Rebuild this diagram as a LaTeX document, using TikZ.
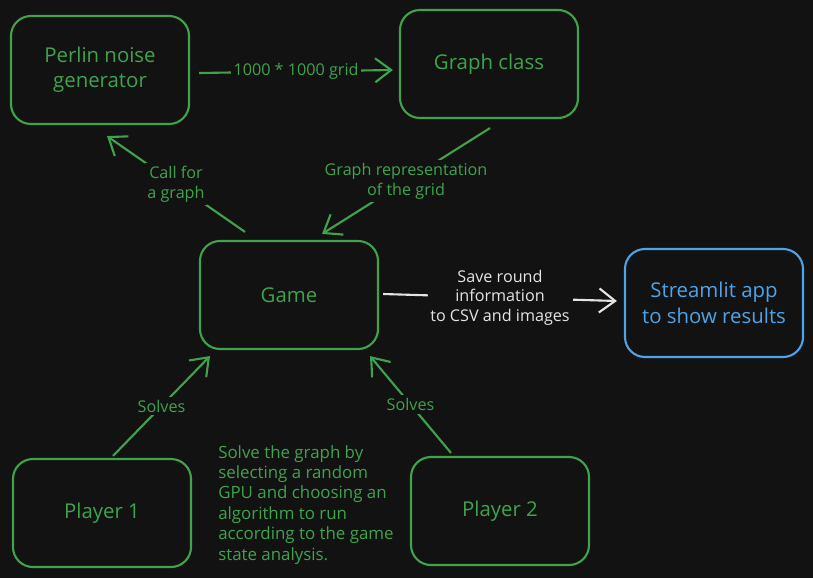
\documentclass[tikz,border=0pt]{standalone}
\usepackage{fontspec}
\setmainfont{Open Sans}
\usetikzlibrary{arrows.meta, calc}
\definecolor{bgdark}{HTML}{121212}
\definecolor{sketchgreen}{HTML}{3FA34D}
\definecolor{sketchblue}{HTML}{4FA3E6}
\definecolor{sketchwhite}{HTML}{E4E4E4}
\begin{document}
\begin{tikzpicture}[
            x=0.025cm, y=-0.025cm,
            box/.style={rectangle, rounded corners=0.5cm, draw=sketchgreen, line width=1.5pt, minimum width=4.45cm, minimum height=2.7cm, text centered, text=sketchgreen, font=\fontsize{14.5}{18}\selectfont, align=center},
            arrow/.style={-{Straight Barb[length=4mm, width=6mm, line width=1.5pt]}, line width=1.5pt, draw=sketchgreen},
            lbl/.style={fill=bgdark, text=sketchgreen, font=\fontsize{11.5}{14}\selectfont, align=center, inner sep=2pt}
        ]
            \fill[bgdark] (0,0) rectangle (813,578);
            \useasboundingbox (0,0) rectangle (813,578);

            % Perlin noise
            \node[box] (perlin) at (100,70) {Perlin noise\\generator};

            % Graph class
            \node[box] (graph) at (489,64) {Graph class};

            % Game
            \node[box] (game) at (289,295) {Game};

            % Streamlit
            \node[box, draw=sketchblue, text=sketchblue] (streamlit) at (714,303) {Streamlit app\\to show results};

            % Players
            \node[box] (p1) at (102,513) {Player 1};
            \node[box] (p2) at (500,511) {Player 2};

            % Note
            \node[anchor=north west, text=sketchgreen, align=left, inner sep=0pt, font=\fontsize{12}{14.5}\selectfont] (note) at (218,445) {Solve the graph by\\selecting a random\\GPU and choosing an\\algorithm to run\\according to the game\\state analysis.};

            % Connections
            \draw[arrow] ($(perlin.east)+(9,3)$) -- node[lbl] {1000 * 1000 grid} ($(graph.west)+(-6,6)$);
            \draw[arrow] ($(game.north)+(-44,-8)$) -- node[lbl] {Call for\\a graph} ($(perlin.south)+(7,11)$);
            \draw[arrow] ($(graph.south)+(1,9)$) -- node[lbl] {Graph representation\\of the grid} ($(game.north)+(33,-6)$);
            \draw[arrow, draw=sketchwhite] ($(game.east)+(4,-1)$) -- node[lbl, text=sketchwhite] {Save round\\information\\to CSV and images} ($(streamlit.west)+(-7,-2)$);
            \draw[arrow] ($(p1.north)+(11,-2)$) -- node[lbl] {Solves} ($(game.south)+(-79,6)$);
            \draw[arrow] ($(p2.north)+(-49,-3)$) -- node[lbl] {Solves} ($(game.south)+(81,6)$);

        \end{tikzpicture}
\end{document}
